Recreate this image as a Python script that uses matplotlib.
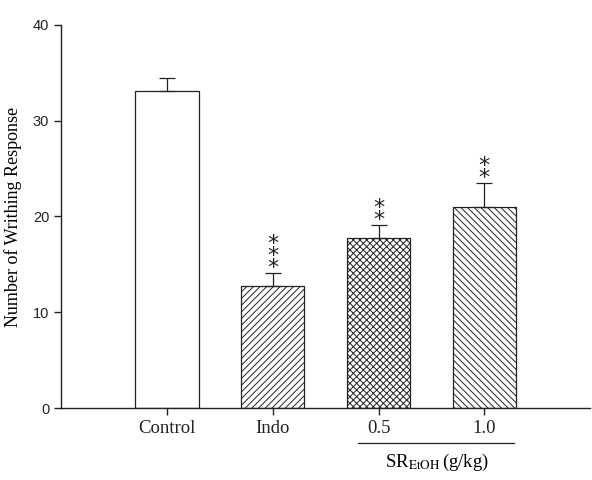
import numpy as np
import matplotlib
matplotlib.use('Agg')
import matplotlib.pyplot as plt
from matplotlib.lines import Line2D

plt.rcParams['mathtext.fontset'] = 'stix'
plt.rcParams['hatch.linewidth'] = 0.7

categories = ['Control', 'Indo', '0.5', '1.0']
means = [33.1, 12.7, 17.8, 21.0]
errors = [1.4, 1.4, 1.3, 2.5]
hatches = ['', '/////', 'xxxxx', '\\\\\\\\\\']
stars = [0, 3, 2, 2]

serif = 'Liberation Serif'
sans = 'Liberation Sans'

fig = plt.figure(figsize=(5.92, 4.8), dpi=100)
ax = fig.add_axes([0.103, 0.15, 0.894, 0.798])

x = np.arange(1, len(categories) + 1)
ax.bar(x, means, width=0.6, color='white', edgecolor='#222222', linewidth=0.9,
       hatch=hatches, zorder=2)
ax.errorbar(x, means, yerr=[np.zeros(len(means)), errors], fmt='none',
            ecolor='#222222', elinewidth=0.9, capsize=6, capthick=0.9, zorder=3)

# significance stars, one stacked text per bar
for xi, m, e, n in zip(x, means, errors, stars):
    if n == 0:
        continue
    ax.text(xi, m + e - 0.5, '\n'.join(['*'] * n), ha='center', va='bottom',
            fontsize=16, family='DejaVu Sans', color='#222222', linespacing=0.5)

ax.set_xlim(0, 5)
ax.set_ylim(0, 40)
ax.set_yticks([0, 10, 20, 30, 40])
ax.set_xticks(x)
ax.set_xticklabels(categories, family=serif, fontsize=13.5)
for lab in ax.get_yticklabels():
    lab.set_family(sans)
    lab.set_fontsize(10.5)
ax.spines['top'].set_visible(False)
ax.spines['right'].set_visible(False)
for s in ['left', 'bottom']:
    ax.spines[s].set_linewidth(1.0)
    ax.spines[s].set_color('#222222')
ax.tick_params(direction='out', length=5, width=1.0, colors='#222222')
ax.set_ylabel('Number of Writhing Response', family=serif, fontsize=13, labelpad=8)

# group label under the two dose bars
fig.add_artist(Line2D([358 / 592, 514 / 592], [1 - 443 / 480, 1 - 443 / 480],
                      color='#222222', linewidth=0.9))
fig.text(437 / 592, 1 - 462 / 480, r'SR$_{\mathrm{EtOH}}\,$(g/kg)', ha='center', va='center',
         family=serif, fontsize=13.5)

plt.savefig('out.png', dpi=100)
